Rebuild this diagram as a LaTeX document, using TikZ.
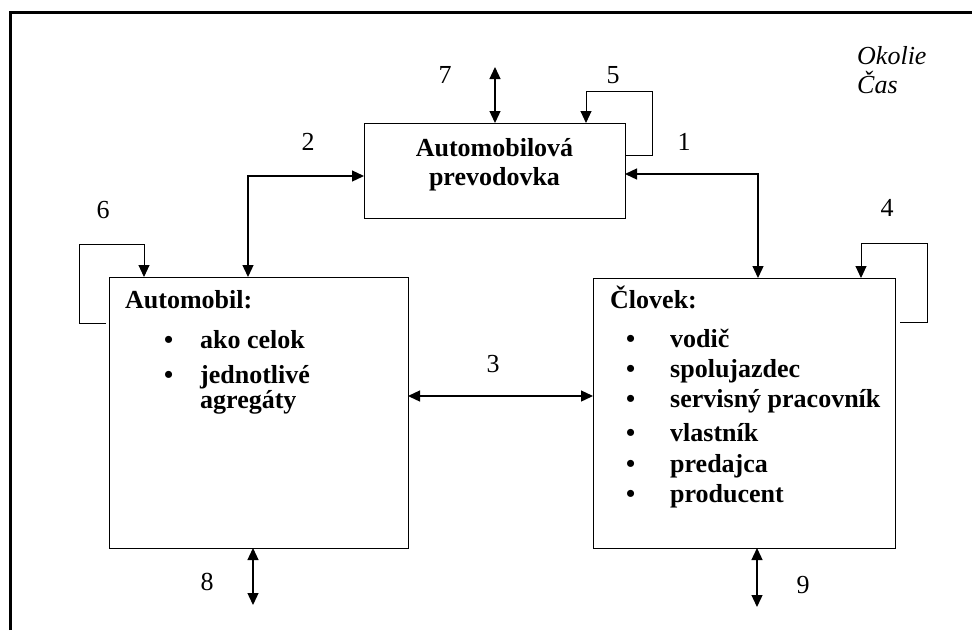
\documentclass[tikz,border=0pt]{standalone}
\usepackage{fontspec}
\setmainfont{Liberation Serif}
\usetikzlibrary{arrows.meta}

\tikzset{
  box/.style={draw, line width=1pt, inner sep=0pt, outer sep=0pt},
  txt/.style={inner sep=0pt, font=\fontsize{26}{30}\selectfont\bfseries, anchor=base west},
  num/.style={inner sep=0pt, font=\fontsize{26}{30}\selectfont, anchor=base},
  tip/.tip={Triangle[length=12pt, width=11pt]},
  arr/.style={line width=1.3pt, -tip},
  dbl/.style={line width=1.3pt, tip-tip},
  loopline/.style={line width=1pt, -tip},
}

\begin{document}
\begin{tikzpicture}[x=1pt, y=-1pt]
\useasboundingbox (0,0) rectangle (972,630);

% outer frame (top and left edges)
\draw[line width=3pt] (10,630) -- (10,12.5) -- (972,12.5);

% blocks
\node[box, minimum width=261pt, minimum height=95pt] (gear) at (494.5,170.5) {};
\node[box, minimum width=299pt, minimum height=271pt] (car) at (258.5,412.5) {};
\node[box, minimum width=302pt, minimum height=270pt] (man) at (744,413) {};

% block texts
\node[txt, anchor=base] (g1) at (494.5,156) {Automobilová};
\node[txt, anchor=base] (g2) at (494.5,185) {prevodovka};

\node[txt] (a0) at (125,308) {Automobil:};
\node[txt] (ab1) at (164,348) {\textbullet};
\node[txt] (a1) at (200,348) {ako celok};
\node[txt] (ab2) at (164,383) {\textbullet};
\node[txt] (a2) at (200,383) {jednotlivé};
\node[txt] (a3) at (200,408) {agregáty};

\node[txt] (m0) at (610,308) {Človek:};
\node[txt] (mb1) at (626,347) {\textbullet};
\node[txt] (m1) at (670,347) {vodič};
\node[txt] (mb2) at (626,377) {\textbullet};
\node[txt] (m2) at (670,377) {spolujazdec};
\node[txt] (mb3) at (626,407) {\textbullet};
\node[txt] (m3) at (670,407) {servisný pracovník};
\node[txt] (mb4) at (626,441) {\textbullet};
\node[txt] (m4) at (670,441) {vlastník};
\node[txt] (mb5) at (626,472) {\textbullet};
\node[txt] (m5) at (670,472) {predajca};
\node[txt] (mb6) at (626,502) {\textbullet};
\node[txt] (m6) at (670,502) {producent};

% surroundings
\node[num, anchor=base west, font=\fontsize{26}{30}\selectfont\itshape] (ok) at (857,64) {Okolie};
\node[num, anchor=base west, font=\fontsize{26}{30}\selectfont\itshape] (cas) at (857,93) {Čas};

% connector corners and free ends
\coordinate (e7) at (495,67);
\coordinate (c5) at (652,91);
\coordinate (c1) at (758,174);
\coordinate (c2) at (248,176);
\coordinate (c6) at (79,244);
\coordinate (c4) at (927,243);
\coordinate (e8) at (253,605);
\coordinate (e9) at (757,607);

% connectors
\draw[dbl] (e7) -- (e7 |- gear.north);
\draw[loopline] ([yshift=15.5pt]gear.east) -| (c5) -| ([xshift=91.5pt]gear.north);
\draw[dbl] ([yshift=-3.5pt]gear.east) -- (c1) -- (c1 |- man.north);
\draw[dbl] ([yshift=-5.5pt]gear.west) -- (c2) -- (c2 |- car.north);
\draw[loopline] ([xshift=-3pt, yshift=89.5pt]car.west) -| (c6) -| ([xshift=-114.5pt]car.north);
\draw[loopline] ([xshift=5pt, yshift=91pt]man.east) -| (c4) -| ([xshift=117pt]man.north);
\draw[dbl] ([yshift=17pt]car.east |- man.west) -- ([yshift=17pt]man.west);
\draw[dbl] (e8 |- car.south) -- (e8);
\draw[dbl] (e9 |- man.south) -- (e9);

% connector numbers
\node[num] (n7) at (445,83) {7};
\node[num] (n5) at (613,83) {5};
\node[num] (n1) at (684,150) {1};
\node[num] (n2) at (308,150) {2};
\node[num] (n6) at (103,218) {6};
\node[num] (n4) at (887,216) {4};
\node[num] (n3) at (493,372) {3};
\node[num] (n8) at (207,590) {8};
\node[num] (n9) at (803,593) {9};
\end{tikzpicture}
\end{document}
